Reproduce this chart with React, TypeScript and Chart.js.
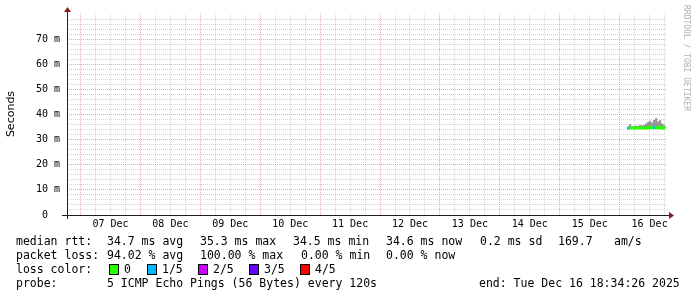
import React, { useEffect, useRef } from "react";
import { Chart, registerables } from "chart.js";

Chart.register(...registerables);

// time axis: hours since 06 Dec 00:00
const startHour = 18.574; // 06 Dec 18:34:26
const endHour = 258.574; // 16 Dec 18:34:26
const dayLabels = ["07 Dec", "08 Dec", "09 Dec", "10 Dec", "11 Dec", "12 Dec", "13 Dec", "14 Dec", "15 Dec", "16 Dec"];

const sampleHours = [243.0, 243.8, 244.6, 245.4, 246.2, 247.0, 247.8, 248.6, 249.4, 250.2, 251.0, 251.8, 252.6, 253.4, 254.2, 255.0, 255.8, 256.6, 257.4, 258.2];
const medianRtt = [34.6, 34.6, 34.6, 34.6, 34.6, 34.6, 34.6, 34.6, 34.6, 34.7, 34.7, 34.8, 34.7, 34.8, 34.7, 34.8, 34.7, 34.6, 34.6, 34.5];
const smokeMax = [35.2, 36.2, 35.2, 35.4, 35.6, 35.4, 35.8, 35.6, 35.8, 36.4, 37.0, 37.4, 36.8, 37.8, 38.6, 37.2, 37.8, 36.4, 35.8, 35.6];
const smokeMin = [34.2, 34.2, 34.2, 34.2, 34.2, 34.2, 34.2, 34.2, 34.2, 34.2, 34.3, 34.3, 34.2, 34.3, 34.2, 34.3, 34.2, 34.2, 34.2, 34.1];
const lossCount = [1, 0, 0, 0, 0, 0, 0, 0, 0, 0, 0, 0, 0, 1, 0, 0, 0, 0, 0, 0];

const lossColors = ["#26ff00", "#00b8ff", "#cc00ff", "#6a00ff", "#ff0000"];
const lossLabels = ["0", "1/5", "2/5", "3/5", "4/5"];

const yMax = 80;
const yStep = 2;

const rttLegend = ["34.7 ms avg", "35.3 ms max", "34.5 ms min", "34.6 ms now", "0.2 ms sd", "169.7", "am/s"];
const lossLegend = ["94.02 % avg", "100.00 % max", "0.00 % min", "0.00 % now"];
const probeText = "5 ICMP Echo Pings (56 Bytes) every 120s";
const endText = "end: Tue Dec 16 18:34:26 2025";

const rttX = [107, 200, 293, 386, 480, 558, 614];
const lossX = [107, 200, 301, 386];
const boxX = [109, 147, 198, 249, 300];

const MONO = "'DejaVu Sans Mono', monospace";
const GRID_MINOR = "rgba(150,150,150,0.4)";
const GRID_MAJOR = "rgba(222,79,79,0.5)";

const axesPlugin = {
  id: "rrdAxes",
  afterDatasetsDraw(chart: any) {
    const { ctx, chartArea } = chart;
    const { left, right, top, bottom } = chartArea;
    ctx.save();
    ctx.strokeStyle = "#1f1f1f";
    ctx.lineWidth = 1;
    ctx.beginPath();
    ctx.moveTo(left + 0.5, top - 4);
    ctx.lineTo(left + 0.5, bottom + 4);
    ctx.stroke();
    ctx.beginPath();
    ctx.moveTo(left - 5, bottom + 0.5);
    ctx.lineTo(right + 3, bottom + 0.5);
    ctx.stroke();
    ctx.fillStyle = "#801f1f";
    ctx.beginPath();
    ctx.moveTo(left + 0.5, top - 7);
    ctx.lineTo(left - 3, top - 2);
    ctx.lineTo(left + 4, top - 2);
    ctx.closePath();
    ctx.fill();
    ctx.beginPath();
    ctx.moveTo(right + 8, bottom + 0.5);
    ctx.lineTo(right + 3, bottom - 3);
    ctx.lineTo(right + 3, bottom + 4);
    ctx.closePath();
    ctx.fill();
    ctx.restore();
  },
};

export default function App() {
  const ref = useRef<HTMLCanvasElement | null>(null);

  useEffect(() => {
    document.body.style.margin = "0";
    if (!ref.current) return;
    const pts = (arr: number[]) => sampleHours.map((h, i) => ({ x: h, y: arr[i] }));
    const chart = new Chart(ref.current, {
      type: "line",
      data: {
        datasets: [
          {
            data: pts(medianRtt),
            borderWidth: 3,
            pointRadius: 0,
            stepped: true,
            fill: false,
            borderColor: lossColors[0],
            segment: {
              borderColor: (c: any) => lossColors[lossCount[c.p0DataIndex]],
            },
          },
          {
            data: pts(smokeMax),
            borderWidth: 0,
            pointRadius: 0,
            stepped: true,
            backgroundColor: "rgb(150,150,150)",
            fill: "+1",
          },
          {
            data: pts(smokeMin),
            borderWidth: 0,
            pointRadius: 0,
            stepped: true,
            fill: false,
          },
        ],
      },
      options: {
        animation: false,
        responsive: false,
        maintainAspectRatio: false,
        layout: { padding: { left: 0, right: 31, top: 14, bottom: 0 } },
        plugins: { legend: { display: false }, tooltip: { enabled: false } },
        scales: {
          x: {
            type: "linear",
            min: startHour,
            max: endHour,
            afterFit: (s: any) => {
              s.height = 82;
            },
            afterBuildTicks: (s: any) => {
              const t = [];
              for (let h = 24; h <= endHour; h += 6) t.push({ value: h });
              s.ticks = t;
            },
            grid: {
              drawTicks: false,
              lineWidth: 1,
              color: (c: any) => (c.tick && Math.round(c.tick.value) % 24 === 0 ? GRID_MAJOR : GRID_MINOR),
            },
            border: { display: false, dash: [1, 1] },
            ticks: {
              autoSkip: false,
              maxRotation: 0,
              padding: 3,
              color: "#000",
              font: { family: MONO, size: 10 },
              callback: (v: any) => {
                const h = Math.round(Number(v));
                if (h % 24 !== 12) return "";
                const d = Math.floor(h / 24) - 1;
                return dayLabels[d] ?? "";
              },
            },
          },
          y: {
            min: 0,
            max: yMax,
            afterFit: (s: any) => {
              s.width = 67;
            },
            afterBuildTicks: (s: any) => {
              const t = [];
              for (let v = 0; v < yMax; v += yStep) t.push({ value: v });
              s.ticks = t;
            },
            grid: {
              drawTicks: false,
              lineWidth: 1,
              color: (c: any) => (c.tick && c.tick.value % 10 === 0 ? GRID_MAJOR : GRID_MINOR),
            },
            border: { display: false, dash: [1, 1] },
            ticks: {
              autoSkip: false,
              padding: 7,
              color: "#000",
              font: { family: MONO, size: 10 },
              callback: (v: any) => {
                const n = Number(v);
                if (n % 10 !== 0) return "";
                return n === 0 ? "0  " : `${n} m`;
              },
            },
          },
        },
      },
      plugins: [axesPlugin],
    });
    return () => chart.destroy();
  }, []);

  const rowTop = [234, 248, 262, 276];
  const txt: React.CSSProperties = {
    position: "absolute",
    fontFamily: MONO,
    fontSize: "11.5px",
    lineHeight: "14px",
    color: "#000",
    whiteSpace: "pre",
  };

  return (
    <div style={{ position: "absolute", left: 0, top: 0, width: 697, height: 297, background: "#fff", overflow: "hidden" }}>
      <canvas ref={ref} width={697} height={297} style={{ position: "absolute", left: 0, top: 0, width: 697, height: 297 }} />
      <div
        style={{
          position: "absolute",
          left: -19,
          top: 106,
          width: 60,
          height: 16,
          lineHeight: "16px",
          textAlign: "center",
          transform: "rotate(-90deg)",
          transformOrigin: "30px 8px",
          fontFamily: "'DejaVu Sans', sans-serif",
          fontSize: "11px",
          color: "#000",
          whiteSpace: "nowrap",
        }}
      >
        Seconds
      </div>
      <div
        style={{
          position: "absolute",
          left: 681,
          top: 5,
          writingMode: "vertical-rl",
          fontFamily: MONO,
          fontSize: "8px",
          color: "#b0b0b0",
          whiteSpace: "nowrap",
          lineHeight: "10px",
        }}
      >
        RRDTOOL / TOBI OETIKER
      </div>

      <span style={{ ...txt, left: 16, top: rowTop[0] }}>median rtt:</span>
      {rttLegend.map((s, i) => (
        <span key={"r" + i} style={{ ...txt, left: rttX[i], top: rowTop[0] }}>{s}</span>
      ))}

      <span style={{ ...txt, left: 16, top: rowTop[1] }}>packet loss:</span>
      {lossLegend.map((s, i) => (
        <span key={"l" + i} style={{ ...txt, left: lossX[i], top: rowTop[1] }}>{s}</span>
      ))}

      <span style={{ ...txt, left: 16, top: rowTop[2] }}>loss color:</span>
      {lossLabels.map((s, i) => (
        <React.Fragment key={"c" + i}>
          <span
            style={{
              position: "absolute",
              left: boxX[i],
              top: rowTop[2] + 2,
              width: 8,
              height: 9,
              background: lossColors[i],
              border: "1px solid #000",
            }}
          />
          <span style={{ ...txt, left: boxX[i] + 15, top: rowTop[2] }}>{s}</span>
        </React.Fragment>
      ))}

      <span style={{ ...txt, left: 16, top: rowTop[3] }}>probe:</span>
      <span style={{ ...txt, left: 107, top: rowTop[3] }}>{probeText}</span>
      <span style={{ ...txt, left: 479, top: rowTop[3] }}>{endText}</span>
    </div>
  );
}
